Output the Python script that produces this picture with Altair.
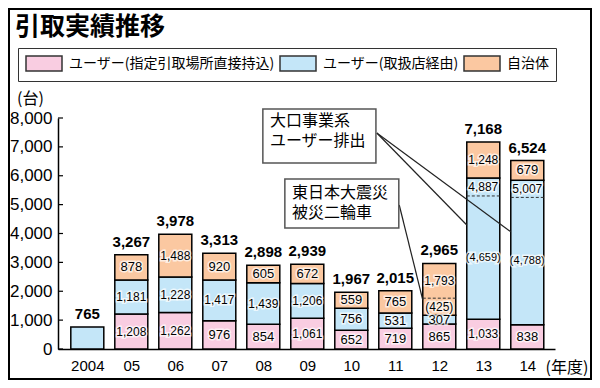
import json
import altair as alt
import pandas as pd

# ---------------- data ----------------
title_text = "引取実績推移"
years = ["2004", "05", "06", "07", "08", "09", "10", "11", "12", "13", "14"]
series = ["ユーザー(指定引取場所直接持込)", "ユーザー(取扱店経由)", "自治体"]
colors = ["#f9cde1", "#c4e6f8", "#fbc8a1"]
direct = [0, 1208, 1262, 976, 854, 1061, 652, 719, 865, 1033, 838]
dealer = [765, 1181, 1228, 1417, 1439, 1206, 756, 531, 307, 4887, 5007]
local = [0, 878, 1488, 920, 605, 672, 559, 765, 1793, 1248, 679]

# parts shown in parentheses inside a segment
sub_year = ["12", "13", "14"]
sub_series = ["自治体", "ユーザー(取扱店経由)", "ユーザー(取扱店経由)"]
sub_value = [425, 4659, 4788]
sub_split_drawn = [1760, 5300, 5250]  # dashed split line as drawn in the picture

y_ticks = [0, 1000, 2000, 3000, 4000, 5000, 6000, 7000, 8000]

notes = [["大口事業系", "ユーザー排出"], ["東日本大震災", "被災二輪車"]]
note_box_x = [3.99, 4.49]
note_box_x2 = [6.56, 7.08]
note_box_y = [8310, 5890]
note_box_y2 = [6440, 4190]
note_text_x = [4.15, 4.65]
note_text_y = [[7900, 7220], [5400, 4710]]
# leader lines: start point (index, value) -> target year, value at bar's left edge
leader_start_x = [6.58, 6.58, 7.09]
leader_start_y = [7480, 7480, 4987]
leader_year = ["13", "14", "12"]
leader_end_y = [4294, 4062, 1697]

# ---------------- styling ----------------
NUM = "'Liberation Sans', Arial, sans-serif"
CJK = "'Noto Sans CJK JP', sans-serif"
HW = 0.375  # half bar width in index units

xs = alt.Scale(domain=[-0.666, 10.63], nice=False, zero=False)
ys = alt.Scale(domain=[0, 8000], nice=False, zero=True)

# ---------------- tables ----------------
def lab_size(t):
    digits = sum(c.isdigit() for c in t)
    return 13 if digits <= 3 else 12

seg_rows, lab_rows, dash_rows, tot_rows = [], [], [], []
for i, y in enumerate(years):
    base = 0
    for s, vals in zip(series, [direct, dealer, local]):
        v = vals[i]
        if v <= 0:
            continue
        y0, y1 = base, base + v
        seg_rows.append({"idx": i, "series": s, "y0": y0, "y1": y1})
        sub = None
        for sy, ss, sv, sp in zip(sub_year, sub_series, sub_value, sub_split_drawn):
            if sy == y and ss == s:
                sub = (sv, sp)
        if i == 0:
            pass
        elif sub is None:
            t = f"{v:,}"
            lab_rows.append({"idx": i, "ymid": (y0 + y1) / 2, "text": t, "size": lab_size(t)})
        else:
            sv, sp = sub
            dash_rows.append({"idx": i, "v": sp})
            t1 = f"({sv:,})"
            t2 = f"{v:,}"
            lab_rows.append({"idx": i, "ymid": (y0 + sp) / 2, "text": t1, "size": lab_size(t1) - 1})
            lab_rows.append({"idx": i, "ymid": (sp + y1) / 2, "text": t2, "size": lab_size(t2)})
        base = y1
    tot_rows.append({"idx": i, "total": base, "text": f"{base:,}"})

seg = pd.DataFrame(seg_rows)
labs = pd.DataFrame(lab_rows)
dashes = pd.DataFrame(dash_rows)
tots = pd.DataFrame(tot_rows)

box_df = pd.DataFrame({"x": note_box_x, "x2": note_box_x2, "y": note_box_y, "y2": note_box_y2})
ntext_rows = []
for k, lines in enumerate(notes):
    for j, t in enumerate(lines):
        ntext_rows.append({"x": note_text_x[k], "y": note_text_y[k][j], "t": t})
ntext = pd.DataFrame(ntext_rows)
lead = pd.DataFrame({
    "x": leader_start_x, "y": leader_start_y,
    "x2": [years.index(yy) - HW for yy in leader_year], "y2": leader_end_y,
})

x_axis = alt.Axis(
    values=list(range(len(years))),
    labelExpr=json.dumps(years) + "[datum.value]",
    ticks=False, grid=False, domainColor="black", domainWidth=1.5,
    labelFont=NUM, labelFontSize=15, labelColor="black", labelPadding=9,
    labelFlush=False, labelOverlap=False,
    title="(年度)", titleX=487, titleY=18, titleAlign="left", titleBaseline="middle",
    titleFont=CJK, titleFontSize=16, titleFontWeight="normal", titleColor="black",
)
y_axis = alt.Axis(
    values=y_ticks, format=",d", ticks=False, grid=False,
    domainColor="black", domainWidth=1.5,
    labelFont=NUM, labelFontSize=17, labelColor="black", labelPadding=6,
    title="(台)", titleAngle=0, titleX=-28, titleY=-20, titleAlign="center",
    titleBaseline="middle", titleFont=CJK, titleFontSize=16,
    titleFontWeight="normal", titleColor="black",
)
legend = alt.Legend(
    title=None, orient="none", legendX=-40, legendY=-70, direction="horizontal",
    columns=3, columnPadding=2, padding=7, gridAlign="none",
    strokeColor="#333", fillColor="white",
    symbolType="M-1,-1H3.8V1H-1Z", symbolSize=225,
    symbolStrokeColor="#333", symbolStrokeWidth=1.5, symbolOpacity=1,
    labelOffset=27, labelFont=CJK, labelFontSize=14, labelColor="black", labelLimit=400,
)

X = lambda f: alt.X(f, scale=xs, axis=x_axis)
Y = lambda f: alt.Y(f, scale=ys, axis=y_axis)

bars = alt.Chart(seg).transform_calculate(
    xa=f"datum.idx - {HW}", xb=f"datum.idx + {HW}"
).mark_rect(stroke="black", strokeWidth=1.5).encode(
    x=X("xa:Q"), x2="xb:Q", y=Y("y0:Q"), y2="y1:Q",
    color=alt.Color("series:N", scale=alt.Scale(domain=series, range=colors), legend=legend),
)

dash = alt.Chart(dashes).transform_calculate(
    xa=f"datum.idx - {HW}", xb=f"datum.idx + {HW}"
).mark_rule(color="#333", strokeWidth=1, strokeDash=[3, 2]).encode(
    x=X("xa:Q"), x2="xb:Q", y=Y("v:Q"),
)

halo = alt.Chart(labs).mark_text(
    font=NUM, stroke="white", strokeWidth=3, strokeOpacity=0.7, fill="white",
    baseline="middle", align="center",
).encode(
    x=X("idx:Q"), y=Y("ymid:Q"),
    text="text:N", size=alt.Size("size:Q", scale=None, legend=None),
)
labels = alt.Chart(labs).mark_text(
    font=NUM, color="black", baseline="middle", align="center",
).encode(
    x=X("idx:Q"), y=Y("ymid:Q"),
    text="text:N", size=alt.Size("size:Q", scale=None, legend=None),
)
totals = alt.Chart(tots).mark_text(
    font=NUM, fontSize=15, fontWeight="bold", color="black",
    baseline="bottom", align="center", dy=-5,
).encode(x=X("idx:Q"), y=Y("total:Q"), text="text:N")

ticks = alt.Chart(pd.DataFrame({"v": y_ticks})).mark_rule(color="black", strokeWidth=1.2).encode(
    x=alt.value(0), x2=alt.value(5), y=Y("v:Q"),
)
leaders = alt.Chart(lead).mark_rule(color="#222", strokeWidth=1.2).encode(
    x=X("x:Q"), x2="x2:Q", y=Y("y:Q"), y2="y2:Q",
)
boxes = alt.Chart(box_df).mark_rect(fill="white", stroke="#555", strokeWidth=1.5).encode(
    x=X("x:Q"), x2="x2:Q", y=Y("y:Q"), y2="y2:Q",
)
box_text = alt.Chart(ntext).mark_text(
    font=CJK, fontSize=16, color="black", align="left", baseline="middle",
).encode(x=X("x:Q"), y=Y("y:Q"), text="t:N")

title = alt.Chart(pd.DataFrame({"t": [title_text]})).mark_text(
    font=CJK, fontSize=25, fontWeight="bold", color="black", align="left", baseline="middle",
).encode(text="t:N", x=alt.value(-43), y=alt.value(-91))
frame = alt.Chart(pd.DataFrame({"a": [0]})).mark_rect(
    fillOpacity=0, stroke="black", strokeWidth=2,
).encode(x=alt.value(-49), x2=alt.value(533), y=alt.value(-109), y2=alt.value(261))

chart = alt.layer(
    bars, dash, halo, labels, totals, ticks, leaders, boxes, box_text, title, frame
).properties(
    width=497, height=231,
    autosize=alt.AutoSizeParams(type="none"),
    padding={"left": 50, "top": 110, "right": 37, "bottom": 31},
    background="white",
).configure_view(stroke=None)

chart.save("out.html", embed_options={"renderer": "svg", "actions": False})
